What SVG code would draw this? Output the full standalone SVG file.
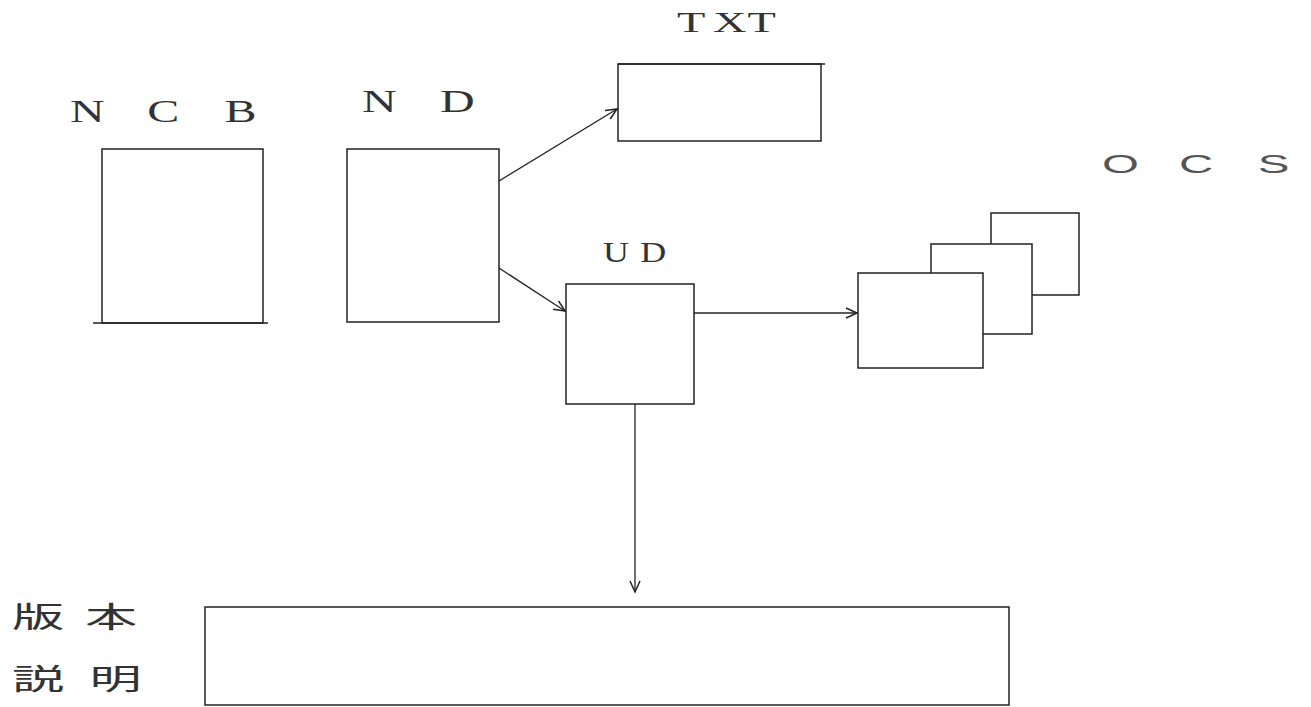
<svg xmlns="http://www.w3.org/2000/svg" width="1311" height="707" viewBox="0 0 1311 707">
<style>
.box{fill:#fff;stroke:#222;stroke-width:1.5}
.ln{fill:none;stroke:#222;stroke-width:1.4}
.lat{font-family:"Liberation Serif","Times New Roman",serif;fill:#333}
.sans{font-family:"Liberation Sans",Arial,sans-serif;fill:#555}
.cjk{font-family:"Noto Sans CJK JP","Noto Sans CJK SC",sans-serif;fill:#333;font-weight:400}
.conn{fill:none;stroke:#222;stroke-width:1.3;marker-end:url(#arr)}
</style>
<defs>
<marker id="arr" markerWidth="14" markerHeight="14" refX="12" refY="6" orient="auto" markerUnits="userSpaceOnUse">
<path d="M1,1 L12,6 L1,11" fill="none" stroke="#222" stroke-width="1.5"/>
</marker>
</defs>
<rect width="1311" height="707" fill="#fff"/>
<g id="ncb">
<rect class="box" x="102" y="149" width="161" height="174"/>
<line class="ln" x1="93" y1="323" x2="268" y2="323"/>
<text class="lat" font-size="32" transform="translate(70,122) scale(1.5,1)" x="0 29 51.5 77 103">N C B</text>
</g>
<g id="nd">
<rect class="box" x="347" y="149" width="152" height="173"/>
<text class="lat" font-size="32" transform="translate(362,112) scale(1.5,1)" x="0 26 52">N D</text>
</g>
<g id="txt">
<rect class="box" x="618" y="64" width="203" height="77"/>
<line class="ln" x1="618" y1="64" x2="825" y2="64"/>
<text class="lat" font-size="29" transform="translate(677,32) scale(1.6,1)" x="0 22.5 44">TXT</text>
</g>
<g id="ud">
<rect class="box" x="566" y="284" width="128" height="120"/>
<text class="lat" font-size="30" transform="translate(603,262) scale(1.2,1)" x="0 31">UD</text>
</g>
<g id="ocs">
<rect class="box" x="991" y="213" width="88" height="82"/>
<rect class="box" x="931" y="244" width="101" height="90"/>
<rect class="box" x="858" y="273" width="125" height="95"/>
<text class="sans" font-size="25" transform="translate(1102,173) scale(1.9,1)" x="0 20 40.5 60 82">O C S</text>
</g>
<g id="version">
<rect class="box" x="205" y="607" width="804" height="98"/>
<text class="cjk" font-size="29" transform="translate(12,628) scale(1.8,1)" x="0 20 40.5">版 本</text>
<text class="cjk" font-size="29" transform="translate(12,690) scale(1.8,1)" x="0 22 43">説 明</text>
</g>
<g id="connectors">
<line class="conn" x1="499" y1="181" x2="617" y2="109"/>
<line class="conn" x1="499" y1="268" x2="565" y2="311"/>
<line class="conn" x1="694" y1="313" x2="857" y2="313"/>
<line class="conn" x1="635" y1="404" x2="635" y2="592"/>
</g>
</svg>
